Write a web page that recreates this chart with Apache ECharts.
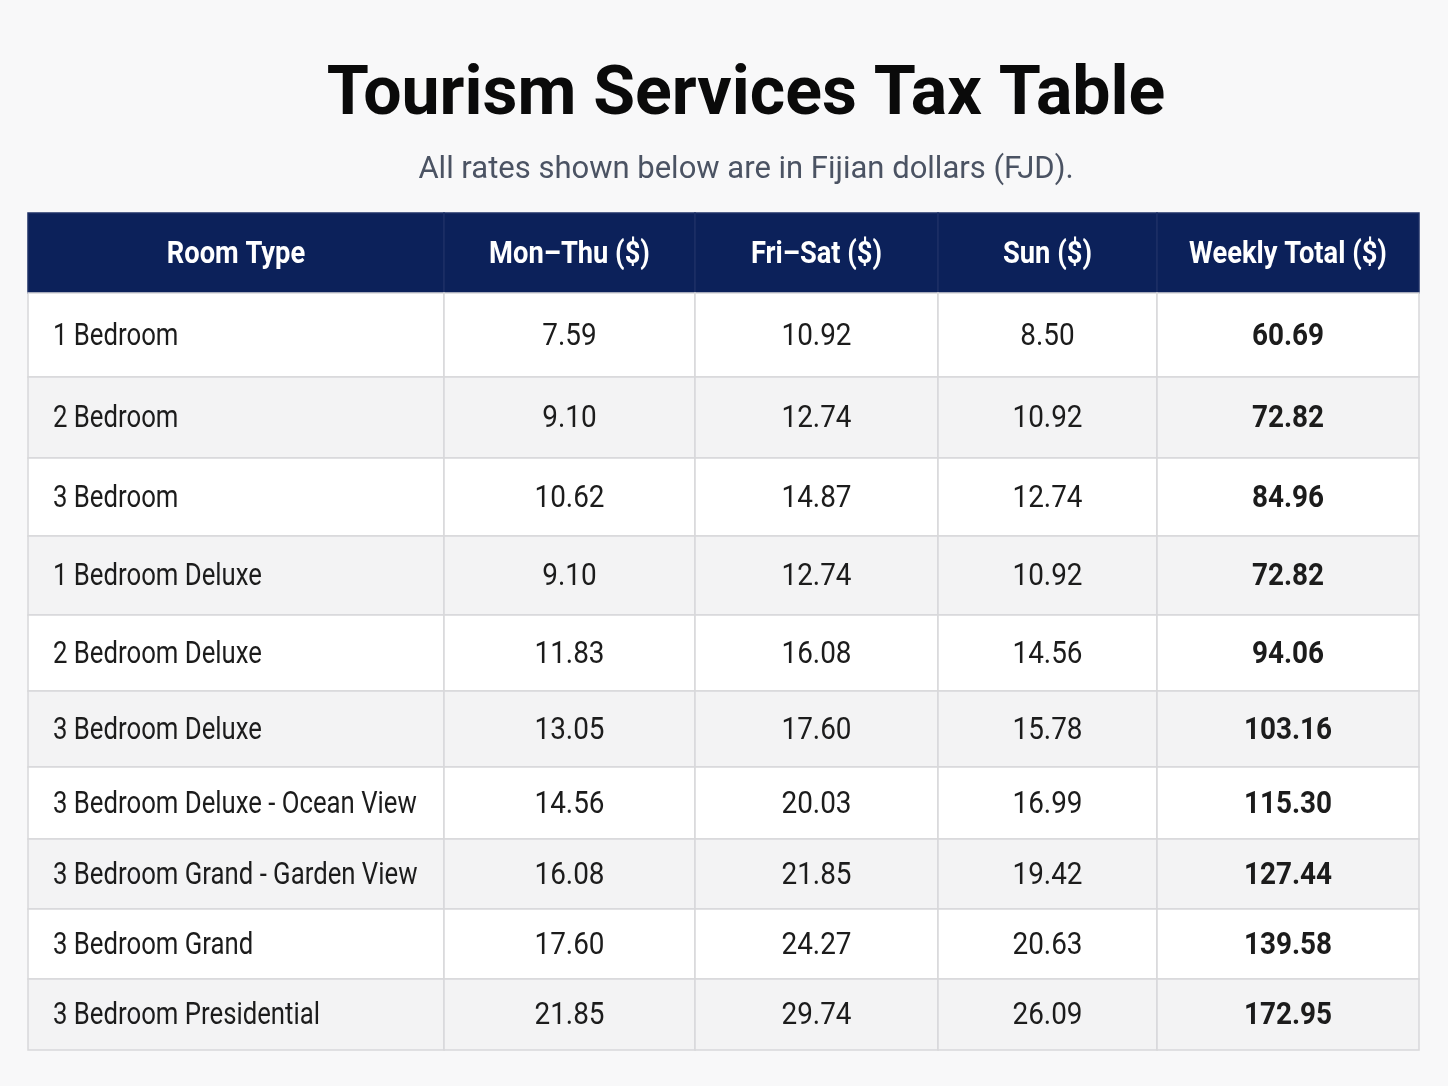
<!DOCTYPE html>
<html>
<head>
<meta charset="utf-8">
<script src="https://cdn.jsdelivr.net/npm/echarts@6/dist/echarts.min.js"></script>
<style>
  html, body { margin: 0; padding: 0; background: #f8f8f9; }
  #chart { width: 1448px; height: 1086px; }
</style>
</head>
<body>
<div id="chart"></div>
<script>
// table content
const headers = ['Room Type', 'Mon–Thu ($)', 'Fri–Sat ($)', 'Sun ($)', 'Weekly Total ($)'];
const roomTypes = [
  '1 Bedroom', '2 Bedroom', '3 Bedroom', '1 Bedroom Deluxe', '2 Bedroom Deluxe',
  '3 Bedroom Deluxe', '3 Bedroom Deluxe - Ocean View', '3 Bedroom Grand - Garden View',
  '3 Bedroom Grand', '3 Bedroom Presidential'
];
const monThu = ['7.59', '9.10', '10.62', '9.10', '11.83', '13.05', '14.56', '16.08', '17.60', '21.85'];
const friSat = ['10.92', '12.74', '14.87', '12.74', '16.08', '17.60', '20.03', '21.85', '24.27', '29.74'];
const sun = ['8.50', '10.92', '12.74', '10.92', '14.56', '15.78', '16.99', '19.42', '20.63', '26.09'];
const weekly = ['60.69', '72.82', '84.96', '72.82', '94.06', '103.16', '115.30', '127.44', '139.58', '172.95'];

// layout (relative widths / heights in axis units)
const colWidths = [416, 251, 243, 219, 262];
const rowHeights = [80, 84, 81, 78, 79, 76, 76, 72, 70, 70, 71];

const colStart = [0];
colWidths.forEach((w, i) => colStart.push(colStart[i] + w));
const rowStart = [0];
rowHeights.forEach((h, i) => rowStart.push(rowStart[i] + h));

const columns = [roomTypes, monThu, friSat, sun, weekly];
const cells = [];
headers.forEach((h, c) => cells.push({ value: [0, c], text: h }));
roomTypes.forEach((_, r) => {
  columns.forEach((col, c) => cells.push({ value: [r + 1, c], text: col[r] }));
});

const bodyFont = 'Roboto, "Noto Sans", sans-serif';

function renderCell(params, api) {
  const r = api.value(0);
  const c = api.value(1);
  const p0 = api.coord([colStart[c], rowStart[r]]);
  const p1 = api.coord([colStart[c + 1], rowStart[r + 1]]);
  const x = p0[0], y = p0[1], w = p1[0] - p0[0], h = p1[1] - p0[1];
  const isHead = r === 0;
  const fill = isHead ? '#0c215a' : (r % 2 === 0 ? '#f3f3f4' : '#ffffff');
  const text = cells[params.dataIndex].text;
  const left = c === 0 && !isHead;
  // squeeze the text a bit to get the condensed look
  const squeeze = isHead ? 0.88 : (c === 0 ? 0.83 : 0.9);
  return {
    type: 'group',
    children: [
      {
        type: 'rect',
        shape: { x: x, y: y, width: w, height: h },
        style: { fill: fill, stroke: isHead ? '#1c2f66' : '#d8d8da', lineWidth: 1.5 }
      },
      {
        type: 'text',
        x: left ? x + 25 : x + w / 2,
        y: y + h / 2 + 2,
        scaleX: squeeze,
        style: {
          x: 0,
          y: 0,
          text: text,
          align: left ? 'left' : 'center',
          verticalAlign: 'middle',
          fill: isHead ? '#ffffff' : '#1c1c1c',
          fontSize: 31,
          fontWeight: (isHead || c === 4) ? 'bold' : 'normal',
          fontFamily: bodyFont
        }
      }
    ]
  };
}

const chart = echarts.init(document.getElementById('chart'));
chart.setOption({
  backgroundColor: '#f8f8f9',
  title: {
    text: 'Tourism Services Tax Table',
    subtext: 'All rates shown below are in Fijian dollars (FJD).',
    left: 741,
    textAlign: 'center',
    top: 58,
    itemGap: 24,
    textStyle: { fontSize: 68, fontWeight: 'bold', color: '#0a0a0a', fontFamily: 'Roboto, "Noto Sans", sans-serif' },
    subtextStyle: { fontSize: 31, color: '#4b5363', fontFamily: bodyFont }
  },
  grid: { left: 28, right: 29, top: 213, bottom: 36 },
  xAxis: { type: 'value', min: 0, max: colStart[colStart.length - 1], show: false },
  yAxis: { type: 'value', min: 0, max: rowStart[rowStart.length - 1], inverse: true, show: false },
  series: [{
    type: 'custom',
    renderItem: renderCell,
    data: cells,
    animation: false
  }]
});
</script>
</body>
</html>
